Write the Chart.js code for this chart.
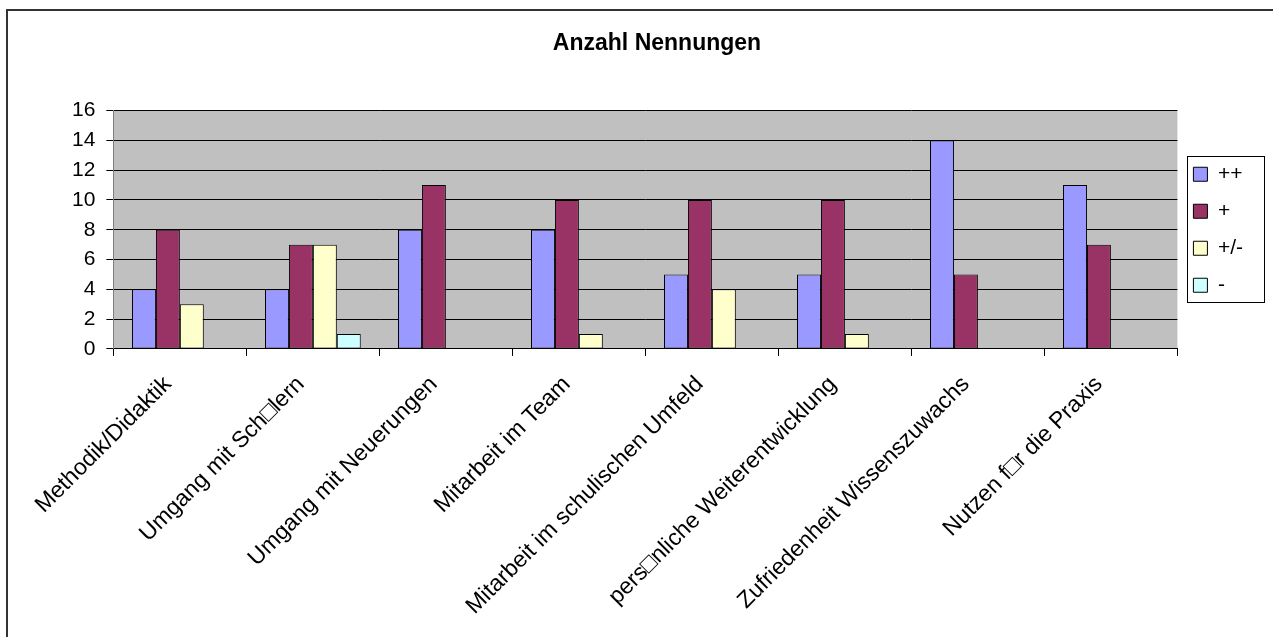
<!DOCTYPE html>
<html>
<head>
<meta charset="utf-8">
<script src="https://cdn.jsdelivr.net/npm/chart.js@4.4.1/dist/chart.umd.min.js"></script>
<style>
  html, body { margin: 0; padding: 0; background: #fff; }
  #frame { position: absolute; left: 6px; top: 9px; width: 1400px; height: 800px;
           border-top: 2px solid #333; border-left: 2px solid #333; }
  #wrap { position: absolute; left: 0; top: 0; width: 1273px; height: 637px; }
</style>
</head>
<body>
<div id="frame"></div>
<div id="wrap"><canvas id="c" width="1273" height="637"></canvas></div>
<script>
const categories = [
  "Methodik/Didaktik",
  "Umgang mit Sch\u25A1lern",
  "Umgang mit Neuerungen",
  "Mitarbeit im Team",
  "Mitarbeit im schulischen Umfeld",
  "pers\u25A1nliche Weiterentwicklung",
  "Zufriedenheit Wissenszuwachs",
  "Nutzen f\u25A1r die Praxis"
];
const seriesNames = ["++", "+", "+/-", "-"];
const valuesPlusPlus = [4, 4, 8, 8, 5, 5, 14, 11];
const valuesPlus     = [8, 7, 11, 10, 10, 10, 5, 7];
const valuesNeutral  = [3, 7, 0, 1, 4, 1, 0, 0];
const valuesMinus    = [0, 1, 0, 0, 0, 0, 0, 0];
const yTicks = [0, 2, 4, 6, 8, 10, 12, 14, 16];
const seriesColors = ["#9999FF", "#993366", "#FFFFCC", "#CCFFFF"];

const FONT = "'Liberation Sans', Arial, Helvetica, sans-serif";

const plotBg = {
  id: 'plotBg',
  beforeDraw(chart) {
    const {ctx, chartArea: a} = chart;
    ctx.save();
    ctx.fillStyle = '#C0C0C0';
    ctx.fillRect(a.left, a.top, a.right - a.left, a.bottom - a.top);
    ctx.restore();
  }
};
const legendFrame = {
  id: 'legendFrame',
  afterDraw(chart) {
    const boxes = chart.legend && chart.legend.legendHitBoxes;
    if (!boxes || !boxes.length) return;
    const left = Math.min(...boxes.map(b => b.left)) - 6;
    const top = boxes[0].top - 7.5;
    const last = boxes[boxes.length - 1];
    const bottom = last.top + last.height + 6.5;
    const right = left + 77;
    const ctx = chart.ctx;
    ctx.save();
    ctx.strokeStyle = '#000';
    ctx.lineWidth = 1;
    ctx.strokeRect(Math.round(left) + 0.5, Math.round(top) + 0.5, Math.round(right - left), Math.round(bottom - top));
    ctx.restore();
  }
};

const datasets = [valuesPlusPlus, valuesPlus, valuesNeutral, valuesMinus].map((vals, i) => ({
  label: seriesNames[i],
  data: vals,
  backgroundColor: seriesColors[i],
  borderColor: '#000',
  borderWidth: 1,
  borderSkipped: false,
  categoryPercentage: 0.72,
  barPercentage: 1.0
}));

new Chart(document.getElementById('c'), {
  type: 'bar',
  data: { labels: categories, datasets },
  plugins: [plotBg, legendFrame],
  options: {
    responsive: false,
    animation: false,
    devicePixelRatio: 1,
    layout: { padding: { left: 61, right: 20, top: 8, bottom: 2 } },
    plugins: {
      title: {
        display: true,
        text: 'Anzahl Nennungen',
        color: '#000',
        font: { family: FONT, size: 23, weight: 'bold' },
        padding: { top: 22, bottom: 53 }
      },
      legend: {
        position: 'right',
        align: 'center',
        fullSize: false,
        labels: {
          color: '#000',
          font: { family: FONT, size: 21 },
          boxWidth: 14,
          boxHeight: 14,
          padding: 16
        }
      },
      tooltip: { enabled: false }
    },
    scales: {
      x: {
        offset: true,
        grid: { drawOnChartArea: false, drawTicks: true, tickLength: 7, color: '#000', offset: true },
        border: { color: '#000', width: 1 },
        ticks: {
          color: '#000',
          font: { family: FONT, size: 23 },
          minRotation: 45,
          maxRotation: 45,
          autoSkip: false,
          padding: 15,
          labelOffset: -12
        }
      },
      y: {
        min: 0,
        max: 16,
        afterBuildTicks(scale) { scale.ticks = yTicks.map(v => ({ value: v })); },
        grid: { color: '#000', lineWidth: 1, drawTicks: true, tickLength: 7 },
        border: { color: '#808080', width: 1 },
        ticks: {
          color: '#000',
          font: { family: FONT, size: 21 },
          padding: 11
        }
      }
    }
  }
});
</script>
</body>
</html>
